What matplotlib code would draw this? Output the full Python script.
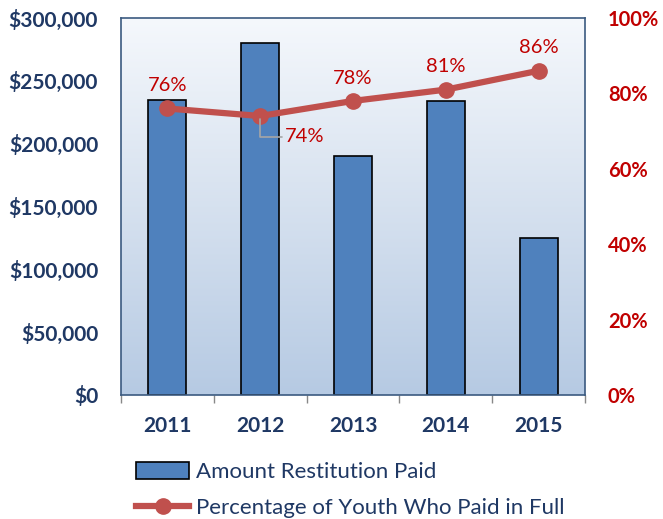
import matplotlib
matplotlib.use("Agg")
import matplotlib.pyplot as plt
import numpy as np
from matplotlib.colors import LinearSegmentedColormap
from matplotlib.ticker import FuncFormatter, MultipleLocator

years = ["2011", "2012", "2013", "2014", "2015"]
amount_paid = [235000, 280000, 190000, 234000, 125000]
pct_full = [76, 74, 78, 81, 86]
pct_labels = ["76%", "74%", "78%", "81%", "86%"]

plt.rcParams['font.family'] = ['Lato', 'DejaVu Sans']
navy = '#1f3864'
red = '#c00000'
line_red = '#c0504d'
bar_blue = '#4f81bd'

fig = plt.figure(figsize=(6.63, 5.19), dpi=100)
ax = fig.add_axes([121/663, 1-395/519, (585-121)/663, (395-18)/519])

x = np.arange(len(years))
ax.set_xlim(-0.5, len(years)-0.5)
ax.set_ylim(0, 300000)

# gradient background
cmap = LinearSegmentedColormap.from_list('bg', ['#b6cae3', '#d6e1ef', '#f5f8fc'])
grad = np.linspace(0, 1, 256).reshape(-1, 1)
ax.imshow(grad, aspect='auto', cmap=cmap, origin='lower',
          extent=[0, 1, 0, 1], transform=ax.transAxes, zorder=0)

bars = ax.bar(x, amount_paid, width=0.41, color=bar_blue, edgecolor='black',
              linewidth=1.2, zorder=2, label='Amount Restitution Paid')

ax.yaxis.set_major_locator(MultipleLocator(50000))
ax.yaxis.set_major_formatter(FuncFormatter(lambda v, p: f"${int(v):,}"))
ax.tick_params(axis='y', length=0, pad=16.5, labelsize=15, labelcolor=navy)
for lbl in ax.get_yticklabels():
    lbl.set_fontweight('bold')

ax.set_xticks(x)
ax.set_xticklabels(years, fontweight='bold', fontsize=15, color=navy)
ax.set_xticks(np.arange(-0.5, len(years), 1.0), minor=True)
ax.tick_params(axis='x', which='major', length=0, pad=15)
ax.tick_params(axis='x', which='minor', length=6, color='#888888', width=1)

for s in ax.spines.values():
    s.set_color('#3b5a80')
    s.set_linewidth(1.2)

ax2 = ax.twinx()
ax2.set_ylim(0, 100)
ax2.yaxis.set_major_locator(MultipleLocator(20))
ax2.yaxis.set_major_formatter(FuncFormatter(lambda v, p: f"{int(v)}%"))
ax2.tick_params(axis='y', length=0, pad=16.5, labelsize=14.5, labelcolor=red)
for lbl in ax2.get_yticklabels():
    lbl.set_fontweight('bold')
for s in ax2.spines.values():
    s.set_visible(False)

line, = ax2.plot(x, pct_full, color=line_red, linewidth=4.5, marker='o',
                 markersize=11, zorder=3, label='Percentage of Youth Who Paid in Full')

for i, (xi, v, t) in enumerate(zip(x, pct_full, pct_labels)):
    if i == 1:
        ax2.annotate(t, xy=(xi, v), xytext=(xi + 0.27, v - 5.5),
                     ha='left', va='center', fontsize=14.5, color=red,
                     arrowprops=dict(arrowstyle='-', color='#a6a6a6', lw=1.2,
                                     connectionstyle='angle,angleA=0,angleB=90,rad=0',
                                     shrinkA=0, shrinkB=2),
                     zorder=4)
    else:
        ax2.text(xi, v + 3.8, t, ha='center', va='bottom', fontsize=14.5, color=red, zorder=4)

fig.legend(handles=[bars, line],
           labels=['Amount Restitution Paid', 'Percentage of Youth Who Paid in Full'],
           loc='upper left', bbox_to_anchor=(127/663, 1-453/519),
           frameon=False, fontsize=16, labelcolor=navy, handlelength=2.4,
           handleheight=0.8, handletextpad=0.3, labelspacing=0.7, borderaxespad=0)

fig.savefig('out.png', dpi=100)
